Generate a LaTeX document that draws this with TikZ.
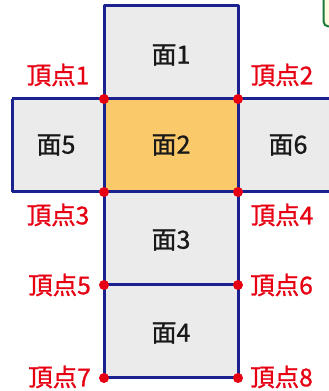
\documentclass[tikz,border=0pt]{standalone}
\usepackage{fontspec}
\newfontfamily\cjk[FakeBold=1]{Noto Sans CJK JP}
\definecolor{navy}{HTML}{1C2190}
\definecolor{facegray}{HTML}{EBEBEB}
\definecolor{faceorange}{HTML}{F9C96A}
\definecolor{vred}{HTML}{E60012}
\definecolor{tagline}{HTML}{1A7A3A}
\definecolor{tagfill}{HTML}{FFFBE0}
\begin{document}
\begin{tikzpicture}[x=1pt,y=1pt,
  face/.style={fill=facegray},
  edge/.style={draw=navy,line width=3pt,line join=round},
  vdot/.style={circle,fill=vred,inner sep=0pt,minimum size=10pt},
  vlabel/.style={text=vred,font=\cjk\fontsize{24.5}{24.5}\selectfont,inner sep=0pt},
  flabel/.style={text=black!90,font=\cjk\fontsize{25}{25}\selectfont,inner sep=0pt}]
\useasboundingbox (0,0) rectangle (329,391);
\clip (0,0) rectangle (329,391);
% corner coordinates
\coordinate (t1) at (104,385); \coordinate (t2) at (238,385);
\coordinate (v1) at (104,292); \coordinate (v2) at (238,292);
\coordinate (v3) at (104,199); \coordinate (v4) at (238,199);
\coordinate (v5) at (104,106); \coordinate (v6) at (238,106);
\coordinate (v7) at (104,13);  \coordinate (v8) at (238,13);
\coordinate (l1) at (12,292);  \coordinate (l2) at (12,199);
\coordinate (r1) at (345,292); \coordinate (r2) at (345,199);
% fills
\fill[face] (v1) rectangle (t2);
\fill[face] (l2) rectangle (v1);
\fill[faceorange] (v3) rectangle (v2);
\fill[face] (v4) rectangle (r1);
\fill[face] (v5) rectangle (v4);
\fill[face] (v7) rectangle (v6);
% edges
\draw[edge] (v1) -- (t1) -- (t2) -- (v2);
\draw[edge] (v7) -- (v1) (v8) -- (v2);
\draw[edge] (l1) -- (r1) (l2) -- (r2) (l1) -- (l2);
\draw[edge] (v5) -- (v6) (v7) -- (v8);
% green tag at top right
\draw[draw=tagline,fill=tagfill,line width=2pt,rounded corners=5pt] (323.5,364.5) rectangle (345,400);
% vertex dots
\foreach \v in {1,...,8} \node[vdot] (d\v) at (v\v) {};
% vertex labels
\node[vlabel] (n1) at (58,316) {頂点1};
\node[vlabel] (n2) at (282,316) {頂点2};
\node[vlabel] (n3) at (58,176) {頂点3};
\node[vlabel] (n4) at (282,176) {頂点4};
\node[vlabel,anchor=east] (n5) at (91,106) {頂点5};
\node[vlabel,anchor=west] (n6) at (250,106) {頂点6};
\node[vlabel,anchor=east] (n7) at (91,14) {頂点7};
\node[vlabel,anchor=west] (n8) at (250,14) {頂点8};
% face labels
\node[flabel] (f1) at (171,336) {面1};
\node[flabel] (f5) at (56,246) {面5};
\node[flabel] (f2) at (171,246) {面2};
\node[flabel] (f6) at (288,246) {面6};
\node[flabel] (f3) at (171,151) {面3};
\node[flabel] (f4) at (171,58) {面4};
\end{tikzpicture}
\end{document}
